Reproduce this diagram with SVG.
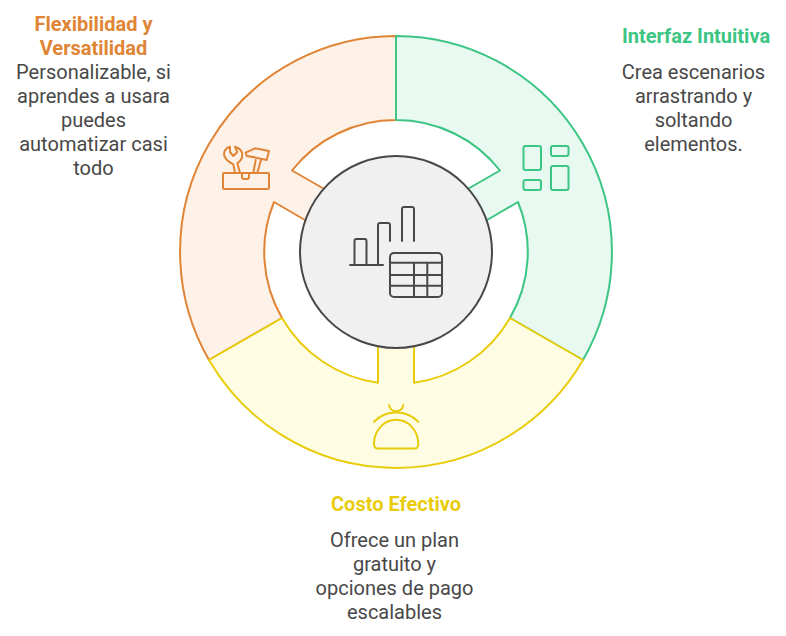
<svg xmlns="http://www.w3.org/2000/svg" width="786" height="636" viewBox="0 0 786 636">
<style>
text{font-family:Roboto,"Liberation Sans",sans-serif;font-size:20px;text-anchor:middle;fill:#484848}
.t{font-weight:700}
.seg{stroke-width:2;stroke-linejoin:round}
.ico{fill:none;stroke-width:2;stroke-linecap:round;stroke-linejoin:round}
.o{stroke:#E08536}.g{stroke:#3CC583}.y{stroke:#E8CC0C}.d{stroke:#484848}
</style>
<rect width="786" height="636" fill="#fff"/>
<g id="connectors"></g>
<g id="node-orange">
<path class="seg o" fill="#FEF2E8" d="M209 360A216 216 0 0 1 396 36V120A132 132 0 0 0 292 170.500L340 198L322 230L274 202A132 132 0 0 0 282 318Z"/>
<path class="ico o" d="M223 174a1 1 0 0 1 1-1h44a1 1 0 0 1 1 1v14a1 1 0 0 1-1 1h-44a1 1 0 0 1-1-1ZM242 173v4a2 2 0 0 0 2 2h3a2 2 0 0 0 2-2v-4M235 172.700L233.300 164.300C227 161 224 158 224 154C224 151 226 148 230 146.700V152L233.300 156L237.300 152L235 146.700C239.500 148 242.300 151 242.300 155C242.300 159 240 161.500 237.300 163.300L240 172.700M253.300 172.700L255.700 160M257.300 172.700L261 160M245.700 152.700L255 148.300L269 151L266.700 160L251.700 156.700L246.700 156Z"/>
</g>
<g id="node-green">
<path class="seg g" fill="#E8F9F1" d="M396 36A216 216 0 0 1 583 360L510 318A132 132 0 0 0 518 202L470 230L452 198L500 170.500A132 132 0 0 0 396 120Z"/>
<g class="ico g"><rect x="523.500" y="146" width="17.500" height="24" rx="2"/><rect x="551" y="146" width="17.500" height="10" rx="2"/><rect x="523.500" y="180" width="17.500" height="10" rx="2"/><rect x="551" y="166" width="17.500" height="24" rx="2"/></g>
</g>
<g id="node-yellow">
<path class="seg y" fill="#FEFCE2" d="M583 360A216 216 0 0 1 209 360L282 318A132 132 0 0 0 378 382.800V330H414V382.800A132 132 0 0 0 510 318Z"/>
<path class="ico y" d="M378 448.500H414.500C417 448.500 418.300 447 418.300 444A22 24 0 0 0 374 444C374 447 375.500 448.500 378 448.500ZM374 421.700A31.400 31.400 0 0 1 418.300 421.700M389 405A7.200 7 0 0 0 403.300 405"/>
</g>
<g id="node-center">
<circle cx="396" cy="252" r="96" fill="#F0F0F0" stroke="#484848" stroke-width="2"/>
<path class="ico d" d="M350 265H383M354.500 265V241a2 2 0 0 1 2-2h8a2 2 0 0 1 2 2V265M378 265V225a2 2 0 0 1 2-2h8a2 2 0 0 1 2 2V241M402 241V209a2 2 0 0 1 2-2h8a2 2 0 0 1 2 2V241"/>
<rect class="ico d" x="390" y="253" width="52" height="44" rx="4"/>
<path class="ico d" d="M390 262.700H442M390 275H442M390 285.700H442M414 262.700V297M427.300 262.700V297"/>
</g>
<g id="label-orange">
<text class="t" style="fill:#E08536" x="93.500" y="31">Flexibilidad y</text>
<text class="t" style="fill:#E08536" x="93.500" y="55">Versatilidad</text>
<text x="93.500" y="79">Personalizable, si</text>
<text x="93.500" y="103">aprendes a usara</text>
<text x="93.500" y="127">puedes</text>
<text x="93.500" y="151">automatizar casi</text>
<text x="93.500" y="175">todo</text>
</g>
<g id="label-green">
<text class="t" style="fill:#3CC583" x="696" y="43">Interfaz Intuitiva</text>
<text x="693.500" y="79">Crea escenarios</text>
<text x="693.500" y="103">arrastrando y</text>
<text x="693.500" y="127">soltando</text>
<text x="693.500" y="151">elementos.</text>
</g>
<g id="label-yellow">
<text class="t" style="fill:#E8CC0C" x="396" y="511">Costo Efectivo</text>
<text x="394.500" y="547">Ofrece un plan</text>
<text x="394.500" y="571">gratuito y</text>
<text x="394.500" y="595">opciones de pago</text>
<text x="394.500" y="619">escalables</text>
</g>
</svg>
